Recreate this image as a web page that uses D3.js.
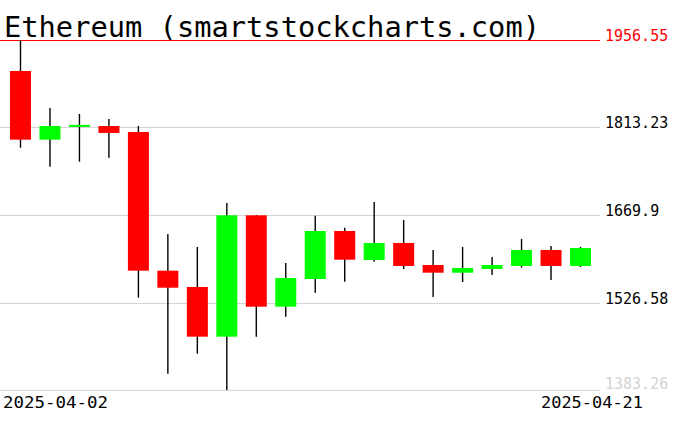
<!DOCTYPE html>
<html>
<head>
<meta charset="utf-8">
<script src="https://cdn.jsdelivr.net/npm/d3@7"></script>
<style>
  body { margin: 0; background: #fff; }
  svg { display: block; }
  text { font-family: "DejaVu Sans Mono", monospace; }
</style>
</head>
<body>
<svg id="chart" width="676" height="431"></svg>
<script>
// daily candles, Ethereum
var dates = ["2025-04-02","2025-04-03","2025-04-04","2025-04-05","2025-04-06",
             "2025-04-07","2025-04-08","2025-04-09","2025-04-10","2025-04-11",
             "2025-04-12","2025-04-13","2025-04-14","2025-04-15","2025-04-16",
             "2025-04-17","2025-04-18","2025-04-19","2025-04-20","2025-04-21"];
var open  = [1905.8, 1793.3, 1815.7, 1815.7, 1805.9, 1578.7, 1552.0, 1470.6, 1669.4, 1519.7,
             1565.1, 1643.7, 1596.2, 1624.1, 1588.0, 1575.4, 1581.5, 1586.4, 1612.6, 1586.4];
var high  = [1956.55, 1845.2, 1835.4, 1827.2, 1815.7, 1638.8, 1617.5, 1689.6, 1669.9, 1591.3,
             1668.8, 1649.1, 1691.2, 1661.7, 1612.6, 1617.5, 1601.1, 1630.6, 1619.2, 1617.5];
var low   = [1780.2, 1749.1, 1757.2, 1763.8, 1534.5, 1410.0, 1442.7, 1383.26, 1470.6, 1503.3,
             1542.7, 1560.7, 1593.4, 1581.5, 1535.6, 1560.2, 1571.6, 1583.6, 1563.5, 1584.8];
var close = [1793.3, 1815.7, 1817.5, 1804.3, 1578.7, 1550.8, 1470.6, 1669.4, 1519.7, 1566.7,
             1643.7, 1596.7, 1624.1, 1586.4, 1575.4, 1583.1, 1588.0, 1612.6, 1586.4, 1615.9];
var yTicks = [1383.26, 1526.58, 1669.9, 1813.23];
var maxLabel = 1956.55;

var svg = d3.select("#chart");

var x = d3.scalePoint().domain(dates).range([20.5, 580.5]);
var y = d3.scaleLinear().domain([1383.26, 1956.55]).range([390, 40]);
var bodyW = 21;

// grid lines
svg.selectAll(".grid").data(yTicks).enter().append("line")
    .attr("x1", 0).attr("x2", 600)
    .attr("y1", function(d) { return Math.round(y(d)) + 0.5; })
    .attr("y2", function(d) { return Math.round(y(d)) + 0.5; })
    .attr("stroke", "#d3d3d3").attr("stroke-width", 1.2);

svg.selectAll(".ylab").data(yTicks).enter().append("text")
    .attr("x", 605)
    .attr("y", function(d, i) { return i == 0 ? y(d) - 1 : y(d) + 1; })
    .attr("font-size", 15)
    .attr("fill", function(d, i) { return i == 0 ? "#d3d3d3" : "#000"; })
    .text(function(d) { return d; });

// title
svg.append("text")
    .attr("x", 4).attr("y", 37)
    .attr("font-size", 29)
    .attr("textLength", 536).attr("lengthAdjust", "spacingAndGlyphs")
    .attr("fill", "#000")
    .text("Ethereum (smartstockcharts.com)");

// max line
svg.append("line")
    .attr("x1", 0).attr("x2", 600)
    .attr("y1", Math.round(y(maxLabel)) + 0.5).attr("y2", Math.round(y(maxLabel)) + 0.5)
    .attr("stroke", "#ff0000").attr("stroke-width", 1.2);
svg.append("text")
    .attr("x", 605).attr("y", y(maxLabel) + 1)
    .attr("font-size", 15).attr("fill", "#ff0000")
    .text(maxLabel);

// candles
var idx = d3.range(dates.length);

svg.selectAll(".wick").data(idx).enter().append("line")
    .attr("x1", function(i) { return x(dates[i]); })
    .attr("x2", function(i) { return x(dates[i]); })
    .attr("y1", function(i) { return y(high[i]); })
    .attr("y2", function(i) { return y(low[i]); })
    .attr("stroke", "#000").attr("stroke-width", 1.4);

svg.selectAll(".body").data(idx).enter().append("rect")
    .attr("x", function(i) { return x(dates[i]) - bodyW / 2; })
    .attr("width", bodyW)
    .attr("y", function(i) { return y(Math.max(open[i], close[i])); })
    .attr("height", function(i) { return Math.max(2, Math.abs(y(open[i]) - y(close[i]))); })
    .attr("fill", function(i) { return close[i] >= open[i] ? "#00ff00" : "#ff0000"; });

// date labels
svg.append("text")
    .attr("x", 3).attr("y", 408)
    .attr("font-size", 16)
    .attr("textLength", 105).attr("lengthAdjust", "spacingAndGlyphs")
    .text(dates[0]);
svg.append("text")
    .attr("x", 541).attr("y", 408)
    .attr("font-size", 16)
    .attr("textLength", 102).attr("lengthAdjust", "spacingAndGlyphs")
    .text(dates[dates.length - 1]);
</script>
</body>
</html>
